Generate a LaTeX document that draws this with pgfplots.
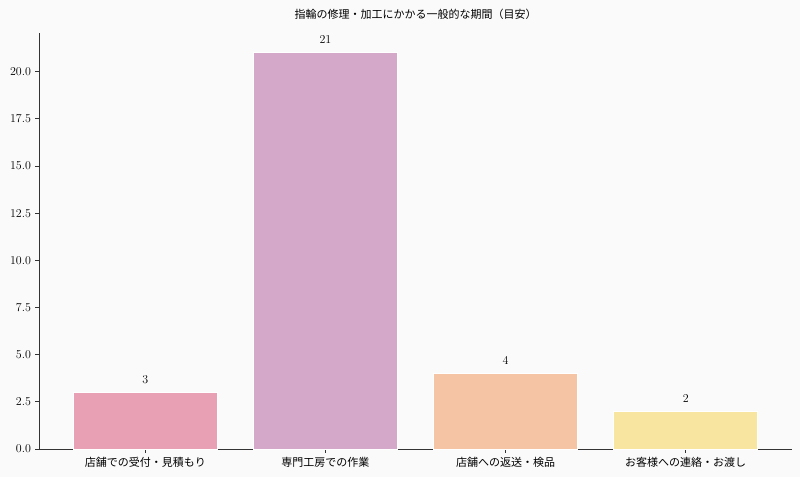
\documentclass[border=0pt]{standalone}
\usepackage{pgfplots}
\pgfplotsset{compat=1.18}
\usepackage{fontspec}
\newfontfamily\cjk{Noto Sans CJK JP}
\definecolor{bg}{HTML}{FAFAFA}
\definecolor{axcol}{HTML}{333333}
\definecolor{cA}{HTML}{E8A0B4}
\definecolor{cB}{HTML}{D4A8C8}
\definecolor{cC}{HTML}{F5C4A4}
\definecolor{cD}{HTML}{F7E5A0}
\begin{document}
\begin{tikzpicture}
\fill[bg] (-39pt,-28pt) rectangle (761pt,449pt);
\useasboundingbox (-39pt,-28pt) rectangle (761pt,449pt);
\begin{axis}[
    scale only axis,
    width=753pt, height=416pt,
    ybar, bar shift=0pt, bar width=0.8,
    xmin=-0.59, xmax=3.59,
    ymin=0, ymax=22.05,
    axis x line=bottom, axis y line=left,
    axis line style={-, color=axcol, line width=0.8pt},
    tick align=outside,
    major tick length=3.5pt,
    tick style={color=axcol, line width=0.8pt},
    xtick={0,1,2,3},
    xticklabels={店舗での受付・見積もり, 専門工房での作業, 店舗への返送・検品, お客様への連絡・お渡し},
    x tick label style={font=\cjk\fontsize{11}{13}\selectfont, yshift=-1pt},
    ytick={0,2.5,5,7.5,10,12.5,15,17.5,20},
    y tick label style={font=\fontsize{12.5}{14}\selectfont, xshift=-1pt},
    yticklabel style={/pgf/number format/.cd, fixed, fixed zerofill, precision=1},
    title={\cjk 指輪の修理・加工にかかる一般的な期間（目安）},
    title style={font=\cjk\fontsize{11}{13}\selectfont, yshift=4pt},
    nodes near coords,
    every node near coord/.append style={font=\bfseries\fontsize{12.5}{14}\selectfont, yshift=5pt, color=black},
    axis background/.style={fill=bg},
]
\addplot[fill=cA, draw=white, line width=1pt] coordinates {(0,3)};
\addplot[fill=cB, draw=white, line width=1pt] coordinates {(1,21)};
\addplot[fill=cC, draw=white, line width=1pt] coordinates {(2,4)};
\addplot[fill=cD, draw=white, line width=1pt] coordinates {(3,2)};
\end{axis}
\end{tikzpicture}
\end{document}
